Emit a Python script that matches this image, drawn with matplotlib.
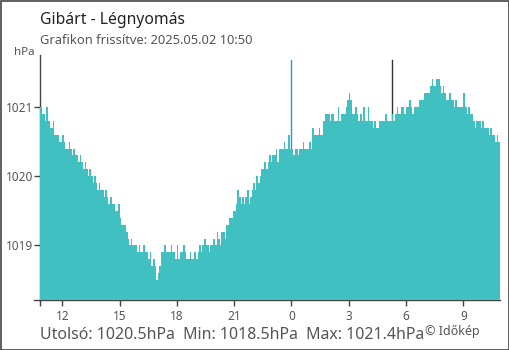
import matplotlib
matplotlib.use("Agg")
import matplotlib.pyplot as plt
import numpy as np
from matplotlib.patches import Rectangle

plt.rcParams["font.family"] = ["Noto Sans", "DejaVu Sans"]

# --- data: air pressure (hPa), 5-minute steps from 10:50 the day before ---
START_HOUR = 10 + 50 / 60
STEP_H = 5 / 60
PRESSURE = [
    # 10:50
    1021.0, 1020.9, 1020.9, 1020.8, 1021.0, 1020.8, 1020.7, 1020.7, 1020.8, 1020.6, 1020.6, 1020.6,
    1020.5, 1020.5, 1020.6, 1020.5, 1020.4, 1020.4, 1020.5, 1020.4, 1020.3, 1020.4, 1020.3, 1020.3,
    1020.2, 1020.3, 1020.2, 1020.1, 1020.2, 1020.1, 1020.0, 1020.1, 1020.0, 1019.9, 1020.0, 1019.9,
    1019.8, 1019.9, 1019.8, 1019.8, 1019.7, 1019.8, 1019.7, 1019.6, 1019.7, 1019.6, 1019.6, 1019.5,
    # 14:50
    1019.5, 1019.6, 1019.4, 1019.3, 1019.3, 1019.3, 1019.2, 1019.1, 1019.0, 1019.1, 1019.0, 1019.0,
    1019.0, 1018.9, 1019.0, 1018.9, 1018.9, 1019.0, 1018.9, 1018.9, 1018.8, 1018.9, 1018.7, 1018.8,
    1018.7, 1018.5, 1018.6, 1018.7, 1018.9, 1018.9, 1019.0, 1018.9, 1018.9, 1018.9, 1019.0, 1018.9,
    1018.9, 1018.8, 1019.0, 1018.8, 1018.9, 1018.9, 1019.0, 1018.9, 1018.8, 1018.8, 1018.9, 1018.8,
    # 18:50
    1018.8, 1018.9, 1018.8, 1018.9, 1019.0, 1018.9, 1019.0, 1019.1, 1019.0, 1019.0, 1018.9, 1019.0,
    1019.0, 1019.1, 1019.0, 1019.2, 1019.1, 1019.0, 1019.2, 1019.2, 1019.1, 1019.3, 1019.3, 1019.4,
    1019.4, 1019.5, 1019.5, 1019.6, 1019.8, 1019.7, 1019.6, 1019.7, 1019.6, 1019.7, 1019.8, 1019.6,
    1019.7, 1019.8, 1019.9, 1019.8, 1020.0, 1019.9, 1020.0, 1020.1, 1020.1, 1020.2, 1020.1, 1020.2,
    # 22:50
    1020.3, 1020.2, 1020.3, 1020.3, 1020.4, 1020.2, 1020.4, 1020.4, 1020.4, 1020.5, 1020.4, 1020.4,
    1020.6, 1020.4, 1020.4, 1020.3, 1020.4, 1020.4, 1020.3, 1020.4, 1020.4, 1020.5, 1020.4, 1020.4,
    1020.4, 1020.5, 1020.4, 1020.7, 1020.6, 1020.6, 1020.6, 1020.7, 1020.6, 1020.6, 1020.8, 1020.9,
    1020.9, 1020.9, 1020.8, 1020.9, 1020.9, 1020.8, 1020.8, 1021.0, 1020.8, 1020.9, 1020.9, 1020.9,
    # 02:50
    1021.0, 1021.1, 1021.2, 1021.1, 1020.9, 1020.9, 1021.0, 1020.9, 1020.8, 1020.9, 1020.8, 1021.0,
    1020.8, 1020.8, 1021.0, 1020.8, 1020.8, 1020.7, 1020.8, 1020.7, 1020.7, 1020.8, 1020.8, 1020.8,
    1020.8, 1020.9, 1020.8, 1020.8, 1020.8, 1020.9, 1020.8, 1020.9, 1021.0, 1020.9, 1020.9, 1021.0,
    1021.0, 1020.9, 1021.0, 1021.0, 1021.1, 1021.0, 1020.9, 1021.0, 1021.0, 1021.0, 1021.1, 1021.1,
    # 06:50
    1021.1, 1021.2, 1021.2, 1021.2, 1021.2, 1021.3, 1021.4, 1021.3, 1021.3, 1021.4, 1021.4, 1021.3,
    1021.2, 1021.3, 1021.2, 1021.1, 1021.1, 1021.2, 1021.1, 1021.1, 1021.0, 1021.1, 1021.0, 1021.0,
    1021.0, 1021.0, 1021.2, 1021.0, 1020.9, 1021.0, 1020.9, 1020.9, 1020.8, 1020.7, 1020.8, 1020.8,
    1020.8, 1020.7, 1020.8, 1020.7, 1020.7, 1020.7, 1020.6, 1020.7, 1020.6, 1020.6, 1020.5, 1020.6,
    1020.5,
]
HOUR_TICKS = [12, 15, 18, 21, 0, 3, 6, 9]
Y_TICKS = [1019, 1020, 1021]
MIDNIGHT_HOUR = 0
SUNRISE_HOUR = 5 + 16 / 60

TITLE = "Gibárt - Légnyomás"
SUBTITLE = "Grafikon frissítve: 2025.05.02 10:50"
STATS = "Utolsó: 1020.5hPa  Min: 1018.5hPa  Max: 1021.4hPa"

BAR_COLOR = "#41c0c2"
AXIS_COLOR = "#444444"
TEXT_COLOR = "#555555"

W, H = 510, 350
Y_LOW, Y_HIGH = 1018.22, 1021.75


def hours_from_start(h):
    return (h - START_HOUR) % 24


fig = plt.figure(figsize=(W / 100, H / 100), dpi=100)
ax = fig.add_axes([40 / W, 1 - 299.5 / H, 460 / W, 244.5 / H])

edges = np.arange(len(PRESSURE) + 1) * STEP_H
ax.stairs(PRESSURE, edges, fill=True, baseline=Y_LOW, color=BAR_COLOR, zorder=3)

line_top = (299.5 - 60) / 244.5
ax.axvline(hours_from_start(MIDNIGHT_HOUR), ymax=line_top, color="#2196f3", lw=1, zorder=2)
ax.axvline(hours_from_start(SUNRISE_HOUR), ymax=line_top, color="#333333", lw=1, zorder=2)

ax.set_xlim(0, len(PRESSURE) * STEP_H)
ax.set_ylim(Y_LOW, Y_HIGH)

ax.set_xticks([0] + [hours_from_start(h) for h in HOUR_TICKS])
ax.set_xticklabels([""] + [str(h) for h in HOUR_TICKS])
ax.set_yticks(Y_TICKS)
ax.set_yticklabels([str(v) for v in Y_TICKS])
ax.tick_params(axis="both", colors=AXIS_COLOR, labelcolor=TEXT_COLOR, labelsize=8.5,
               length=4.3, width=1)
ax.tick_params(axis="x", pad=3)
ax.tick_params(axis="y", pad=0.5)
ax.get_xticklines()[2 * (1 + HOUR_TICKS.index(0))].set_color("#2196f3")

for side in ["top", "right"]:
    ax.spines[side].set_visible(False)
for side in ["left", "bottom"]:
    ax.spines[side].set_color(AXIS_COLOR)
    ax.spines[side].set_linewidth(1)
# small stub of the x axis left of the y axis
ax.plot([-6 / 460, 0], [0, 0], transform=ax.transAxes, color=AXIS_COLOR, lw=1, clip_on=False)

fig.text(40 / W, 1 - 24 / H, TITLE, fontsize=11.3, color="#222222", va="baseline")
fig.text(40 / W, 1 - 44.3 / H, SUBTITLE, fontsize=9.3, color=TEXT_COLOR, va="baseline")
fig.text(35 / W, 1 - 55 / H, "hPa", fontsize=8.3, color=TEXT_COLOR, va="baseline", ha="right")
fig.text(40 / W, 1 - 339 / H, STATS, fontsize=11.45, color=TEXT_COLOR, va="baseline")
fig.text(425 / W, 1 - 335.5 / H, "© Időkép", fontsize=9, color=TEXT_COLOR, va="baseline")

fig.patches.append(Rectangle((0.5 / W, 0.5 / H), 1 - 1.5 / W, 1 - 1.5 / H,
                             transform=fig.transFigure, fill=False,
                             edgecolor=AXIS_COLOR, lw=1.2))

fig.savefig("out.png", dpi=100)
